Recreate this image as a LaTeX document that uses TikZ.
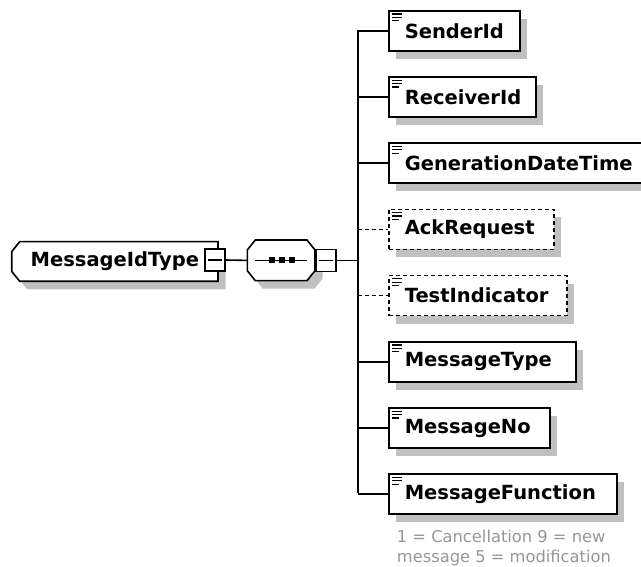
\documentclass[tikz,border=0pt]{standalone}
\usepackage{fontspec}
\setmainfont{DejaVu Sans}
\usetikzlibrary{shadows}
\definecolor{shadowgray}{RGB}{192,192,192}
\definecolor{notegray}{RGB}{150,150,150}
\newcommand{\elemlabel}[2]{\makebox[#1pt][l]{\hspace*{16pt}#2}}
\newcommand{\elemicon}[1]{%
  \draw[iconline] ([shift={(4,4)}]#1.north west) -- ++(10,0)
                  ([shift={(4,7.4)}]#1.north west) -- ++(10,0)
                  ([shift={(4,10.8)}]#1.north west) -- ++(7,0);}
\tikzset{
  conn/.style={line width=1.6pt},
  optconn/.style={conn, dash pattern=on 4pt off 3pt},
  shadowed/.style={drop shadow={shadow xshift=7.5pt, shadow yshift=-8pt, fill=shadowgray, opacity=1}},
  elembox/.style={draw, fill=white, line width=1.6pt, rectangle, inner xsep=0pt, inner ysep=0pt,
    minimum height=40pt, anchor=north west, font=\bfseries\fontsize{19.5}{23}\selectfont, shadowed},
  optbox/.style={elembox, dash pattern=on 4pt off 3pt},
  outline/.style={draw, fill=white, line width=1.6pt, line join=miter},
  shadowfill/.style={fill=shadowgray},
  plainnode/.style={rectangle, inner sep=0pt, font=\bfseries\fontsize{19.5}{23}\selectfont},
  minusbox/.style={draw, fill=white, line width=1.6pt, rectangle, minimum width=20pt, minimum height=22pt, inner sep=0pt},
  iconline/.style={line width=1.1pt},
  notetext/.style={anchor=north west, align=left, inner sep=0pt, text=notegray, font=\fontsize{16.3}{20}\selectfont}
}
\begin{document}
\begin{tikzpicture}[x=1pt,y=-1pt]
\useasboundingbox (0,0) rectangle (641,567);
\clip (0,0) rectangle (641,567);

% root type: chamfered on the left
\foreach \dx/\dy/\sty in {7.5/8/shadowfill, 0/0/outline} {
  \path[\sty, shift={(\dx,\dy)}] (218,241.7) -- (19.7,241.7) -- (11.7,251.7) -- (11.7,271.3)
     -- (19.7,281.3) -- (218,281.3) -- cycle;
}
\node[plainnode, minimum width=206.3pt, minimum height=39.6pt] (mit) at (114.85,261.5) {MessageIdType\hspace{17pt}};
\node[minusbox] (mitminus) at (215,260) {};
\draw[conn] ([xshift=-7]mitminus.center) -- ([xshift=7]mitminus.center);

% sequence compositor: octagon
\foreach \dx/\dy/\sty in {7.5/8/shadowfill, 0/0/outline} {
  \path[\sty, shift={(\dx,\dy)}] (255.3,240) -- (307,240) -- (315,250) -- (315,270.7) -- (307,280.7)
     -- (255.3,280.7) -- (247.3,270.7) -- (247.3,250) -- cycle;
}
\node[plainnode, minimum width=67.7pt, minimum height=40.7pt] (seq) at (281.15,260.4) {};
\draw[conn] ([xshift=-26]seq.center) -- ([xshift=25.5]seq.center);
\fill ([shift={(-12.5,-3)}]seq.center) rectangle ++(6,6);
\fill ([shift={(-2.5,-3)}]seq.center) rectangle ++(6,6);
\fill ([shift={(7.5,-3)}]seq.center) rectangle ++(6,6);
\node[minusbox] (seqminus) at (325.8,260.5) {};
\draw[conn] ([xshift=-7]seqminus.center) -- ([xshift=7]seqminus.center);

\draw[conn] (mitminus.east) -- (seq.west);

% child elements
\node[elembox] (sid) at (388,10)    {\elemlabel{131}{SenderId}};
\node[elembox] (rid) at (388,76.2)  {\elemlabel{147}{ReceiverId}};
\node[elembox] (gdt) at (388,142.4) {\elemlabel{262}{GenerationDateTime}};
\node[optbox]  (ack) at (388,208.6) {\elemlabel{165}{AckRequest}};
\node[optbox]  (tst) at (388,274.8) {\elemlabel{178}{TestIndicator}};
\node[elembox] (mty) at (388,341)   {\elemlabel{187}{MessageType}};
\node[elembox] (mno) at (388,407.2) {\elemlabel{161}{MessageNo}};
\node[elembox] (mfn) at (388,473.4) {\elemlabel{228}{MessageFunction}};
\foreach \n in {sid,rid,gdt,ack,tst,mty,mno,mfn} {\elemicon{\n}}

% spine
\coordinate (spinetop) at (357.7,30);
\coordinate (spinebot) at (357.7,493.4);
\draw[conn] (spinetop) -- (spinebot);
\draw[conn] (seqminus.east) -- (seqminus.east -| spinetop);
\foreach \n in {sid,rid,gdt,mty,mno,mfn} {\draw[conn] (\n.west -| spinetop) -- (\n.west);}
\foreach \n in {ack,tst} {\draw[optconn] (\n.west -| spinetop) -- (\n.west);}

% annotation
\node[notetext] (note) at (396.7,529.5) {1 = Cancellation 9 = new\\message 5 = modification};
\end{tikzpicture}
\end{document}
